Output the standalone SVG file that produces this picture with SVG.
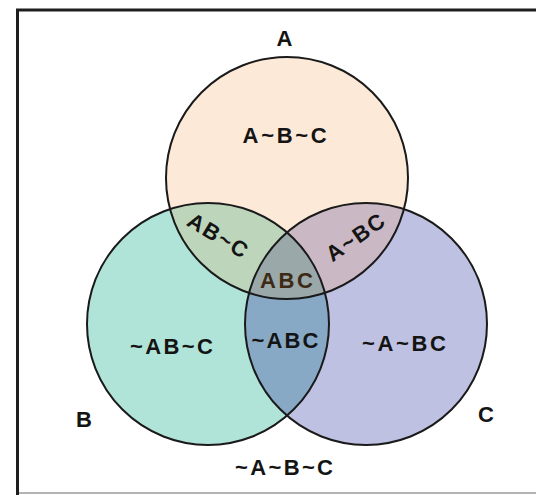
<svg xmlns="http://www.w3.org/2000/svg" width="536" height="495" viewBox="0 0 536 495">
  <style>
    .lbl { font-family: "Liberation Sans", Arial, sans-serif; font-weight: bold; font-size: 22px; fill: #141414; text-anchor: middle; }
    .abc { fill: #3d2a14; }
    .outline { fill: none; stroke: #1a1a1a; stroke-width: 2; }
  </style>
  <defs>
    <clipPath id="clipA"><circle cx="287" cy="178" r="121"/></clipPath>
    <clipPath id="clipB"><circle cx="208" cy="324" r="121"/></clipPath>
  </defs>
  <rect x="0" y="0" width="536" height="495" fill="#ffffff"/>
  <g id="frame">
    <line x1="17" y1="493" x2="536" y2="493" stroke="#b4b4b4" stroke-width="2"/>
    <path d="M17.5,495 V10 H536" fill="none" stroke="#1e1e1e" stroke-width="3"/>
  </g>
  <g id="regions">
    <circle cx="287" cy="178" r="121" fill="#fde9d8"/>
    <circle cx="208" cy="324" r="121" fill="#b0e4d9"/>
    <circle cx="366" cy="324" r="121" fill="#bfc1e2"/>
    <circle cx="208" cy="324" r="121" fill="#bdd6bb" clip-path="url(#clipA)"/>
    <circle cx="366" cy="324" r="121" fill="#cbb8c5" clip-path="url(#clipA)"/>
    <circle cx="366" cy="324" r="121" fill="#88a9c6" clip-path="url(#clipB)"/>
    <g clip-path="url(#clipA)">
      <circle cx="366" cy="324" r="121" fill="#9aa8aa" clip-path="url(#clipB)"/>
    </g>
  </g>
  <g id="set-A">
    <circle class="outline" cx="287" cy="178" r="121"/>
    <text class="lbl" x="284.5" y="46">A</text>
  </g>
  <g id="set-B">
    <circle class="outline" cx="208" cy="324" r="121"/>
    <text class="lbl" x="84" y="427">B</text>
  </g>
  <g id="set-C">
    <circle class="outline" cx="366" cy="324" r="121"/>
    <text class="lbl" x="486" y="422">C</text>
  </g>
  <g id="region-labels">
    <text class="lbl" x="284.6" y="143" textLength="84" lengthAdjust="spacing">A~B~C</text>
    <text class="lbl" transform="translate(218,235) rotate(31)" x="0" y="8" textLength="66" lengthAdjust="spacing">AB~C</text>
    <text class="lbl" transform="translate(355,237) rotate(-35)" x="0" y="8" textLength="66" lengthAdjust="spacing">A~BC</text>
    <text class="lbl abc" x="286.5" y="288" textLength="53" lengthAdjust="spacing">ABC</text>
    <text class="lbl" x="285" y="348" textLength="67" lengthAdjust="spacing">~ABC</text>
    <text class="lbl" x="171.5" y="354" textLength="83" lengthAdjust="spacing">~AB~C</text>
    <text class="lbl" x="404" y="351" textLength="84" lengthAdjust="spacing">~A~BC</text>
    <text class="lbl" x="284" y="475" textLength="98" lengthAdjust="spacing">~A~B~C</text>
  </g>
  <g id="connectors"/>
</svg>
